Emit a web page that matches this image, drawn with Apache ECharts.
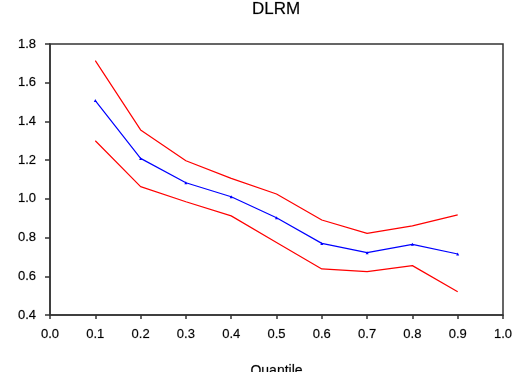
<!DOCTYPE html>
<html>
<head>
<meta charset="utf-8">
<script src="https://cdn.jsdelivr.net/npm/echarts@6/dist/echarts.min.js"></script>
<style>html,body{margin:0;padding:0;background:#fff}#c{width:517px;height:372px}</style>
</head>
<body>
<div id="c"></div>
<script>
var quantiles = [0.1, 0.2, 0.3, 0.4, 0.5, 0.6, 0.7, 0.8, 0.9];
var estimate = [1.508, 1.209, 1.083, 1.011, 0.902, 0.770, 0.722, 0.765, 0.715];
var upperBand = [1.714, 1.356, 1.197, 1.106, 1.025, 0.891, 0.822, 0.860, 0.917];
var lowerBand = [1.300, 1.063, 0.985, 0.912, 0.775, 0.638, 0.624, 0.655, 0.520];
var titleText = 'DLRM';
var xName = 'Quantile';

function pairs(ys){ return quantiles.map(function(q,i){ return [q, ys[i]]; }); }

var chart = echarts.init(document.getElementById('c'), null, {renderer:'canvas'});
var font = 'Liberation Sans, Arial, sans-serif';
chart.setOption({
  animation: false,
  backgroundColor: '#fff',
  title: {text: titleText, left: 252, top: 1, padding: 0,
    textStyle: {fontFamily: font, fontSize: 17, fontWeight: 'normal', color: '#000',
      textBorderColor: 'rgba(0,0,0,0.35)', textBorderWidth: 0.5}},
  grid: {left: 50, right: 14, top: 44, bottom: 57, outerBoundsMode: 'none', containLabel: false,
    show: true, borderColor: '#333', borderWidth: 1.5, backgroundColor: 'transparent'},
  xAxis: {type: 'value', min: 0, max: 1, interval: 0.1,
    name: xName, nameLocation: 'middle', nameGap: 49,
    nameTextStyle: {fontFamily: font, fontSize: 14, color: '#000',
      textBorderColor: 'rgba(0,0,0,0.35)', textBorderWidth: 0.5},
    axisLine: {show: true, lineStyle: {color: '#333', width: 1.5}},
    axisTick: {show: true, length: 4, lineStyle: {color: '#333', width: 1.5}},
    axisLabel: {fontFamily: font, fontSize: 13, color: '#000', margin: 13,
      textBorderColor: 'rgba(0,0,0,0.35)', textBorderWidth: 0.5,
      formatter: function(v){ return v.toFixed(1); }},
    splitLine: {show: false}},
  yAxis: {type: 'value', min: 0.4, max: 1.8, interval: 0.2,
    axisLine: {show: true, lineStyle: {color: '#333', width: 1.5}},
    axisTick: {show: true, length: 5, lineStyle: {color: '#333', width: 1.5}},
    axisLabel: {fontFamily: font, fontSize: 13, color: '#000', margin: 14,
      textBorderColor: 'rgba(0,0,0,0.35)', textBorderWidth: 0.5,
      formatter: function(v){ return v.toFixed(1); }},
    splitLine: {show: false}},
  series: [
    {type: 'line', data: pairs(upperBand), symbol: 'none', lineStyle: {color: '#ff0000', width: 1.2}, itemStyle:{color:'#ff0000'}},
    {type: 'line', data: pairs(lowerBand), symbol: 'none', lineStyle: {color: '#ff0000', width: 1.2}, itemStyle:{color:'#ff0000'}},
    {type: 'line', data: pairs(estimate), symbol: 'triangle', symbolSize: 3, lineStyle: {color: '#0000ff', width: 1.2}, itemStyle:{color:'#0000ff'}}
  ]
});
</script>
</body>
</html>
